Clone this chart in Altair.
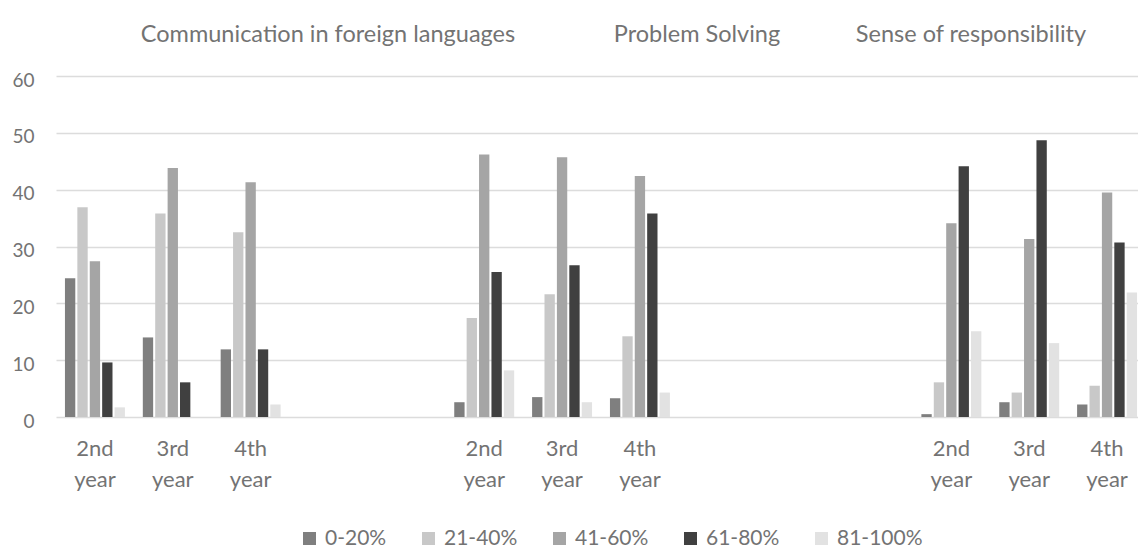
import altair as alt
import pandas as pd

# ---- data ----
groups = ["Communication in foreign languages", "Problem Solving", "Sense of responsibility"]
years = ["2nd year", "3rd year", "4th year"]
series = ["0-20%", "21-40%", "41-60%", "61-80%", "81-100%"]
colors = ["#7f7f7f", "#c8c8c8", "#a5a5a5", "#404040", "#e2e2e2"]

comm_2nd = [24.4, 36.9, 27.4, 9.6, 1.7]
comm_3rd = [14.0, 35.8, 43.8, 6.1, 0.0]
comm_4th = [11.9, 32.5, 41.3, 11.9, 2.2]

ps_2nd = [2.6, 17.4, 46.2, 25.5, 8.2]
ps_3rd = [3.5, 21.6, 45.7, 26.7, 2.6]
ps_4th = [3.3, 14.2, 42.4, 35.8, 4.3]

sr_2nd = [0.5, 6.1, 34.1, 44.1, 15.1]
sr_3rd = [2.6, 4.3, 31.3, 48.7, 13.0]
sr_4th = [2.2, 5.5, 39.5, 30.7, 21.9]

# category slots along the axis (empty slots between the groups)
slots = (
    [groups[0] + "|" + y for y in years]
    + ["gap1", "gap2"]
    + [groups[1] + "|" + y for y in years]
    + ["gap3", "gap4", "gap5"]
    + [groups[2] + "|" + y for y in years]
)

values = {
    groups[0]: [comm_2nd, comm_3rd, comm_4th],
    groups[1]: [ps_2nd, ps_3rd, ps_4th],
    groups[2]: [sr_2nd, sr_3rd, sr_4th],
}

rows = []
for g in groups:
    for yi, y in enumerate(years):
        for si, s in enumerate(series):
            rows.append({"slot": g + "|" + y, "series": s, "value": values[g][yi][si]})
df = pd.DataFrame(rows)

FONT = "Lato"
TXT = "#737373"
GRID = "#dcdcdc"

label_expr = "indexof(datum.value, '|') >= 0 ? split(split(datum.value, '|')[1], ' ') : ''"

bars = alt.Chart(df).mark_bar().encode(
    x=alt.X(
        "slot:N",
        sort=slots,
        scale=alt.Scale(domain=slots, range=[0, 1090], paddingInner=0.23, paddingOuter=0.115),
        axis=alt.Axis(
            title=None,
            labelExpr=label_expr,
            labelAngle=0,
            labelFont=FONT,
            labelFontSize=22,
            labelColor=TXT,
            labelLineHeight=31,
            labelPadding=21,
            labelBaseline="top",
            ticks=False,
            domain=False,
            grid=False,
        ),
    ),
    xOffset=alt.XOffset(
        "series:N",
        sort=series,
        scale=alt.Scale(domain=series, paddingInner=0.1667, paddingOuter=0),
    ),
    y=alt.Y(
        "value:Q",
        scale=alt.Scale(domain=[0, 60]),
        axis=alt.Axis(
            title=None,
            values=[0, 10, 20, 30, 40, 50, 60],
            labelFont=FONT,
            labelFontSize=19,
            labelColor=TXT,
            labelPadding=22,
            labelOffset=4,
            ticks=False,
            domain=False,
            grid=True,
            gridColor=GRID,
            gridWidth=1.5,
        ),
    ),
    color=alt.Color(
        "series:N",
        sort=series,
        scale=alt.Scale(domain=series, range=colors),
        legend=alt.Legend(
            title=None,
            orient="none",
            direction="horizontal",
            legendX=243,
            legendY=452,
            symbolType="square",
            symbolSize=169,
            symbolStrokeWidth=0,
            labelFont=FONT,
            labelFontSize=21,
            labelColor=TXT,
            labelOffset=5,
            gridAlign="none",
            columnPadding=31,
        ),
    ),
)

heading_x = [272, 641, 915]
layers = [bars]
for g, hx in zip(groups, heading_x):
    layers.append(
        alt.Chart(pd.DataFrame({"t": [g]})).mark_text(
            font=FONT, fontSize=23.5, color=TXT, align="center", baseline="alphabetic"
        ).encode(x=alt.value(hx), y=alt.value(-34), text="t:N")
    )

chart = alt.layer(*layers).properties(
    width=1082,
    height=341,
    autosize=alt.AutoSizeParams(type="none"),
    padding={"left": 56, "top": 76, "right": 0, "bottom": 132},
).configure(
    font=FONT, background="white"
).configure_view(stroke=None)

chart.save("out.html", embed_options={"renderer": "svg", "actions": False})
